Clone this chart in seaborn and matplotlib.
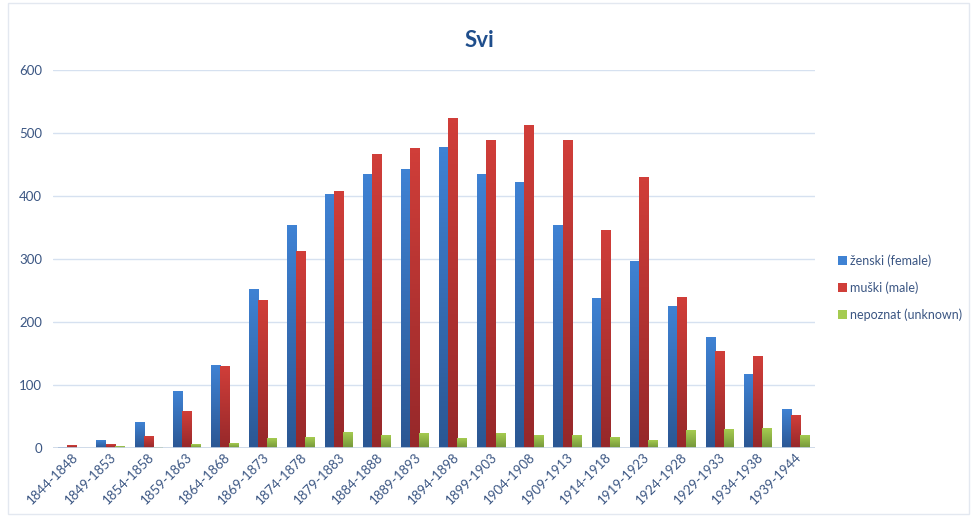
import numpy as np
import pandas as pd
import seaborn as sns
import matplotlib.pyplot as plt
from matplotlib.colors import LinearSegmentedColormap
from matplotlib.patches import Patch, Rectangle

# values
periods = ['1844-1848', '1849-1853', '1854-1858', '1859-1863', '1864-1868',
           '1869-1873', '1874-1878', '1879-1883', '1884-1888', '1889-1893',
           '1894-1898', '1899-1903', '1904-1908', '1909-1913', '1914-1918',
           '1919-1923', '1924-1928', '1929-1933', '1934-1938', '1939-1944']
female = [1, 12, 40, 89, 131, 251, 353, 402, 434, 443,
          477, 435, 421, 353, 237, 296, 224, 175, 116, 61]
male = [4, 5, 18, 58, 129, 235, 312, 408, 467, 475,
        523, 489, 513, 488, 345, 429, 239, 153, 145, 51]
unknown = [0, 2, 1, 5, 7, 15, 16, 24, 20, 23,
           15, 23, 20, 20, 16, 12, 28, 29, 31, 20]
labels = ['ženski (female)', 'muški (male)', 'nepoznat (unknown)']

df = pd.DataFrame({
    'period': periods * 3,
    'value': female + male + unknown,
    'sex': np.repeat(labels, len(periods)),
})

sns.set_theme(style='white')
plt.rcParams['font.family'] = ['Lato', 'DejaVu Sans']

text_col = '#3B5683'
tops = ['#3F82D3', '#D03E39', '#A5CB50']
bottoms = ['#2B5794', '#96282A', '#74963A']

fig = plt.figure(figsize=(9.71, 5.16), dpi=100)
ax = fig.add_axes([0.0546, 0.132, 0.7844, 0.732])

sns.barplot(data=df, x='period', y='value', hue='sex', palette=tops,
            width=0.72, linewidth=0, ax=ax)
ax.get_legend().remove()

# vertical gradient on each bar
for i, cont in enumerate(ax.containers):
    cmap = LinearSegmentedColormap.from_list('g', [bottoms[i], tops[i]])
    grad = np.linspace(0, 1, 64).reshape(-1, 1)
    for bar in cont:
        x, w, h = bar.get_x(), bar.get_width(), bar.get_height()
        if h <= 0:
            continue
        ax.imshow(grad, extent=[x, x + w, 0, h], aspect='auto', cmap=cmap,
                  origin='lower', zorder=3)
        bar.set_visible(False)

ax.set_xlim(-0.5, len(periods) - 0.5)
ax.set_ylim(0, 600)
ax.set_yticks(range(0, 601, 100))
ax.yaxis.grid(True, color='#D6E1F0', linewidth=1)
ax.set_axisbelow(True)
for s in ax.spines.values():
    s.set_visible(False)
ax.axhline(0, color='#C9D5E6', linewidth=1.2, zorder=4)
ax.set_xlabel('')
ax.set_ylabel('')
ax.tick_params(axis='y', labelsize=9.5, colors=text_col, length=0, pad=8)
ax.tick_params(axis='x', labelsize=9.5, colors=text_col, length=0, pad=2)
plt.setp(ax.get_xticklabels(), rotation=45, ha='right', rotation_mode='anchor')

fig.text(0.494, 0.922, 'Svi', ha='center', va='center', fontsize=16,
         fontweight='bold', color='#1F4E8C')

handles = [Patch(facecolor=c, edgecolor='none') for c in tops]
fig.legend(handles, labels, loc='center left', bbox_to_anchor=(0.863, 0.443),
           frameon=False, fontsize=9, labelcolor=text_col, handlelength=0.75,
           handleheight=0.75, handletextpad=0.25, labelspacing=1.15,
           borderaxespad=0, borderpad=0)

# faint chart border
fig.patches.append(Rectangle((0.008, 0.004), 0.99, 0.99, transform=fig.transFigure,
                             fill=False, edgecolor='#E3E8F0', linewidth=1))

fig.savefig('out.png', dpi=100)
